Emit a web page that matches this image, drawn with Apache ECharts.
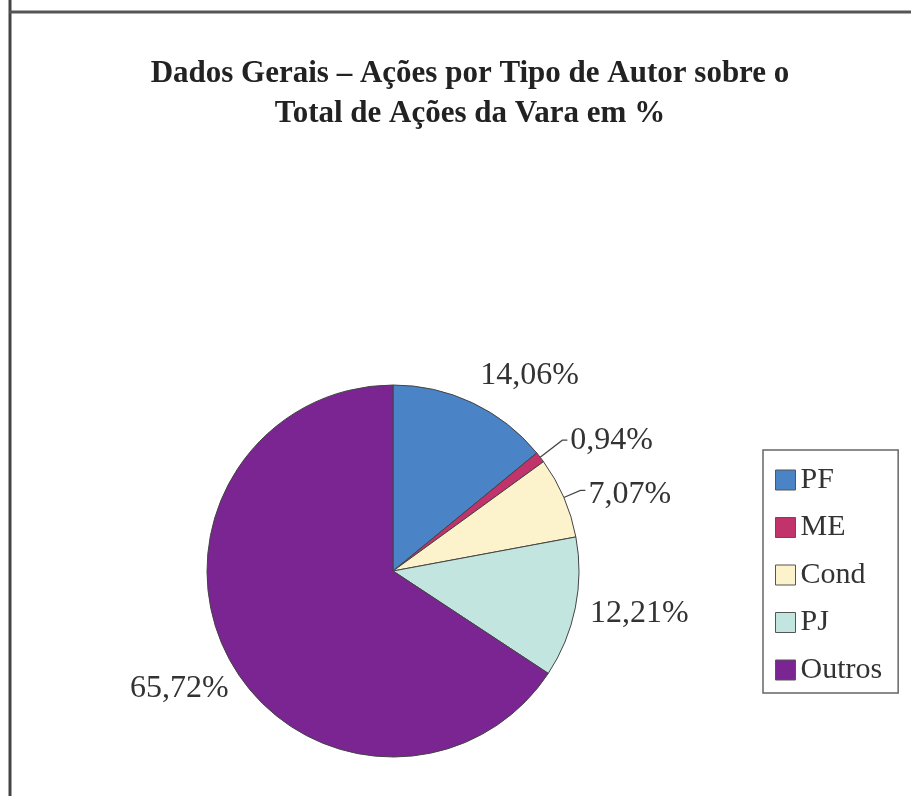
<!DOCTYPE html>
<html>
<head>
<meta charset="utf-8">
<script src="https://cdn.jsdelivr.net/npm/echarts@6/dist/echarts.min.js"></script>
<style>
html,body{margin:0;padding:0;background:#fff;}
#chart{width:911px;height:796px;}
</style>
</head>
<body>
<div id="chart"></div>
<script>
const categories = ['PF', 'ME', 'Cond', 'PJ', 'Outros'];
const values = [14.06, 0.94, 7.07, 12.21, 65.72];
const colors = ['#4a84c6', '#c2336c', '#fcf2cc', '#c2e5df', '#7a2592'];
const showLine = [false, true, true, false, false];
const lineLen = [30, 28, 18, 12, 20];

const chart = echarts.init(document.getElementById('chart'));
const font = '"Liberation Serif", "Times New Roman", serif';

const labelShift = { 0: { dx: -8, dy: 0 }, 2: { dx: 0, dy: 4 }, 3: { dx: 0, dy: 3 }, 4: { dx: 20, dy: 20 } };

const option = {
  backgroundColor: '#fff',
  animation: false,
  title: {
    text: 'Dados Gerais – Ações por Tipo de Autor sobre o\nTotal de Ações da Vara em %',
    left: 465,
    textAlign: 'center',
    top: 49,
    textStyle: {
      fontFamily: font, fontSize: 31, fontWeight: 'bold', color: '#222', lineHeight: 40
    }
  },
  graphic: [
    { type: 'line', shape: { x1: 10, y1: 0, x2: 10, y2: 796 }, style: { stroke: '#444', lineWidth: 3 } },
    { type: 'line', shape: { x1: 9, y1: 12, x2: 911, y2: 12 }, style: { stroke: '#555', lineWidth: 3 } }
  ],
  legend: {
    orient: 'vertical',
    left: 763,
    top: 450,
    padding: [15, 16, 8, 12],
    itemGap: 17.5,
    itemWidth: 20,
    itemHeight: 20,
    icon: 'rect',
    borderColor: '#666',
    borderWidth: 1.5,
    itemStyle: { borderColor: '#555', borderWidth: 1 },
    textStyle: { fontFamily: font, fontSize: 30, color: '#333' },
    data: categories
  },
  series: [{
    type: 'pie',
    center: [393, 571],
    radius: 186,
    startAngle: 90,
    clockwise: true,
    avoidLabelOverlap: false,
    itemStyle: { borderColor: '#444', borderWidth: 1 },
    label: {
      show: true,
      fontFamily: font,
      fontSize: 32,
      color: '#333',
      formatter: p => p.value.toFixed(2).replace('.', ',') + '%',
      distanceToLabelLine: 3
    },
    labelLine: { lineStyle: { color: '#444', width: 1.2 } },
    labelLayout: p => labelShift[p.dataIndex] || {},
    data: categories.map((c, i) => ({
      name: c,
      value: values[i],
      itemStyle: { color: colors[i] },
      labelLine: { show: showLine[i], length: lineLen[i], length2: showLine[i] ? 5 : 0 }
    }))
  }]
};
chart.setOption(option);
</script>
</body>
</html>
